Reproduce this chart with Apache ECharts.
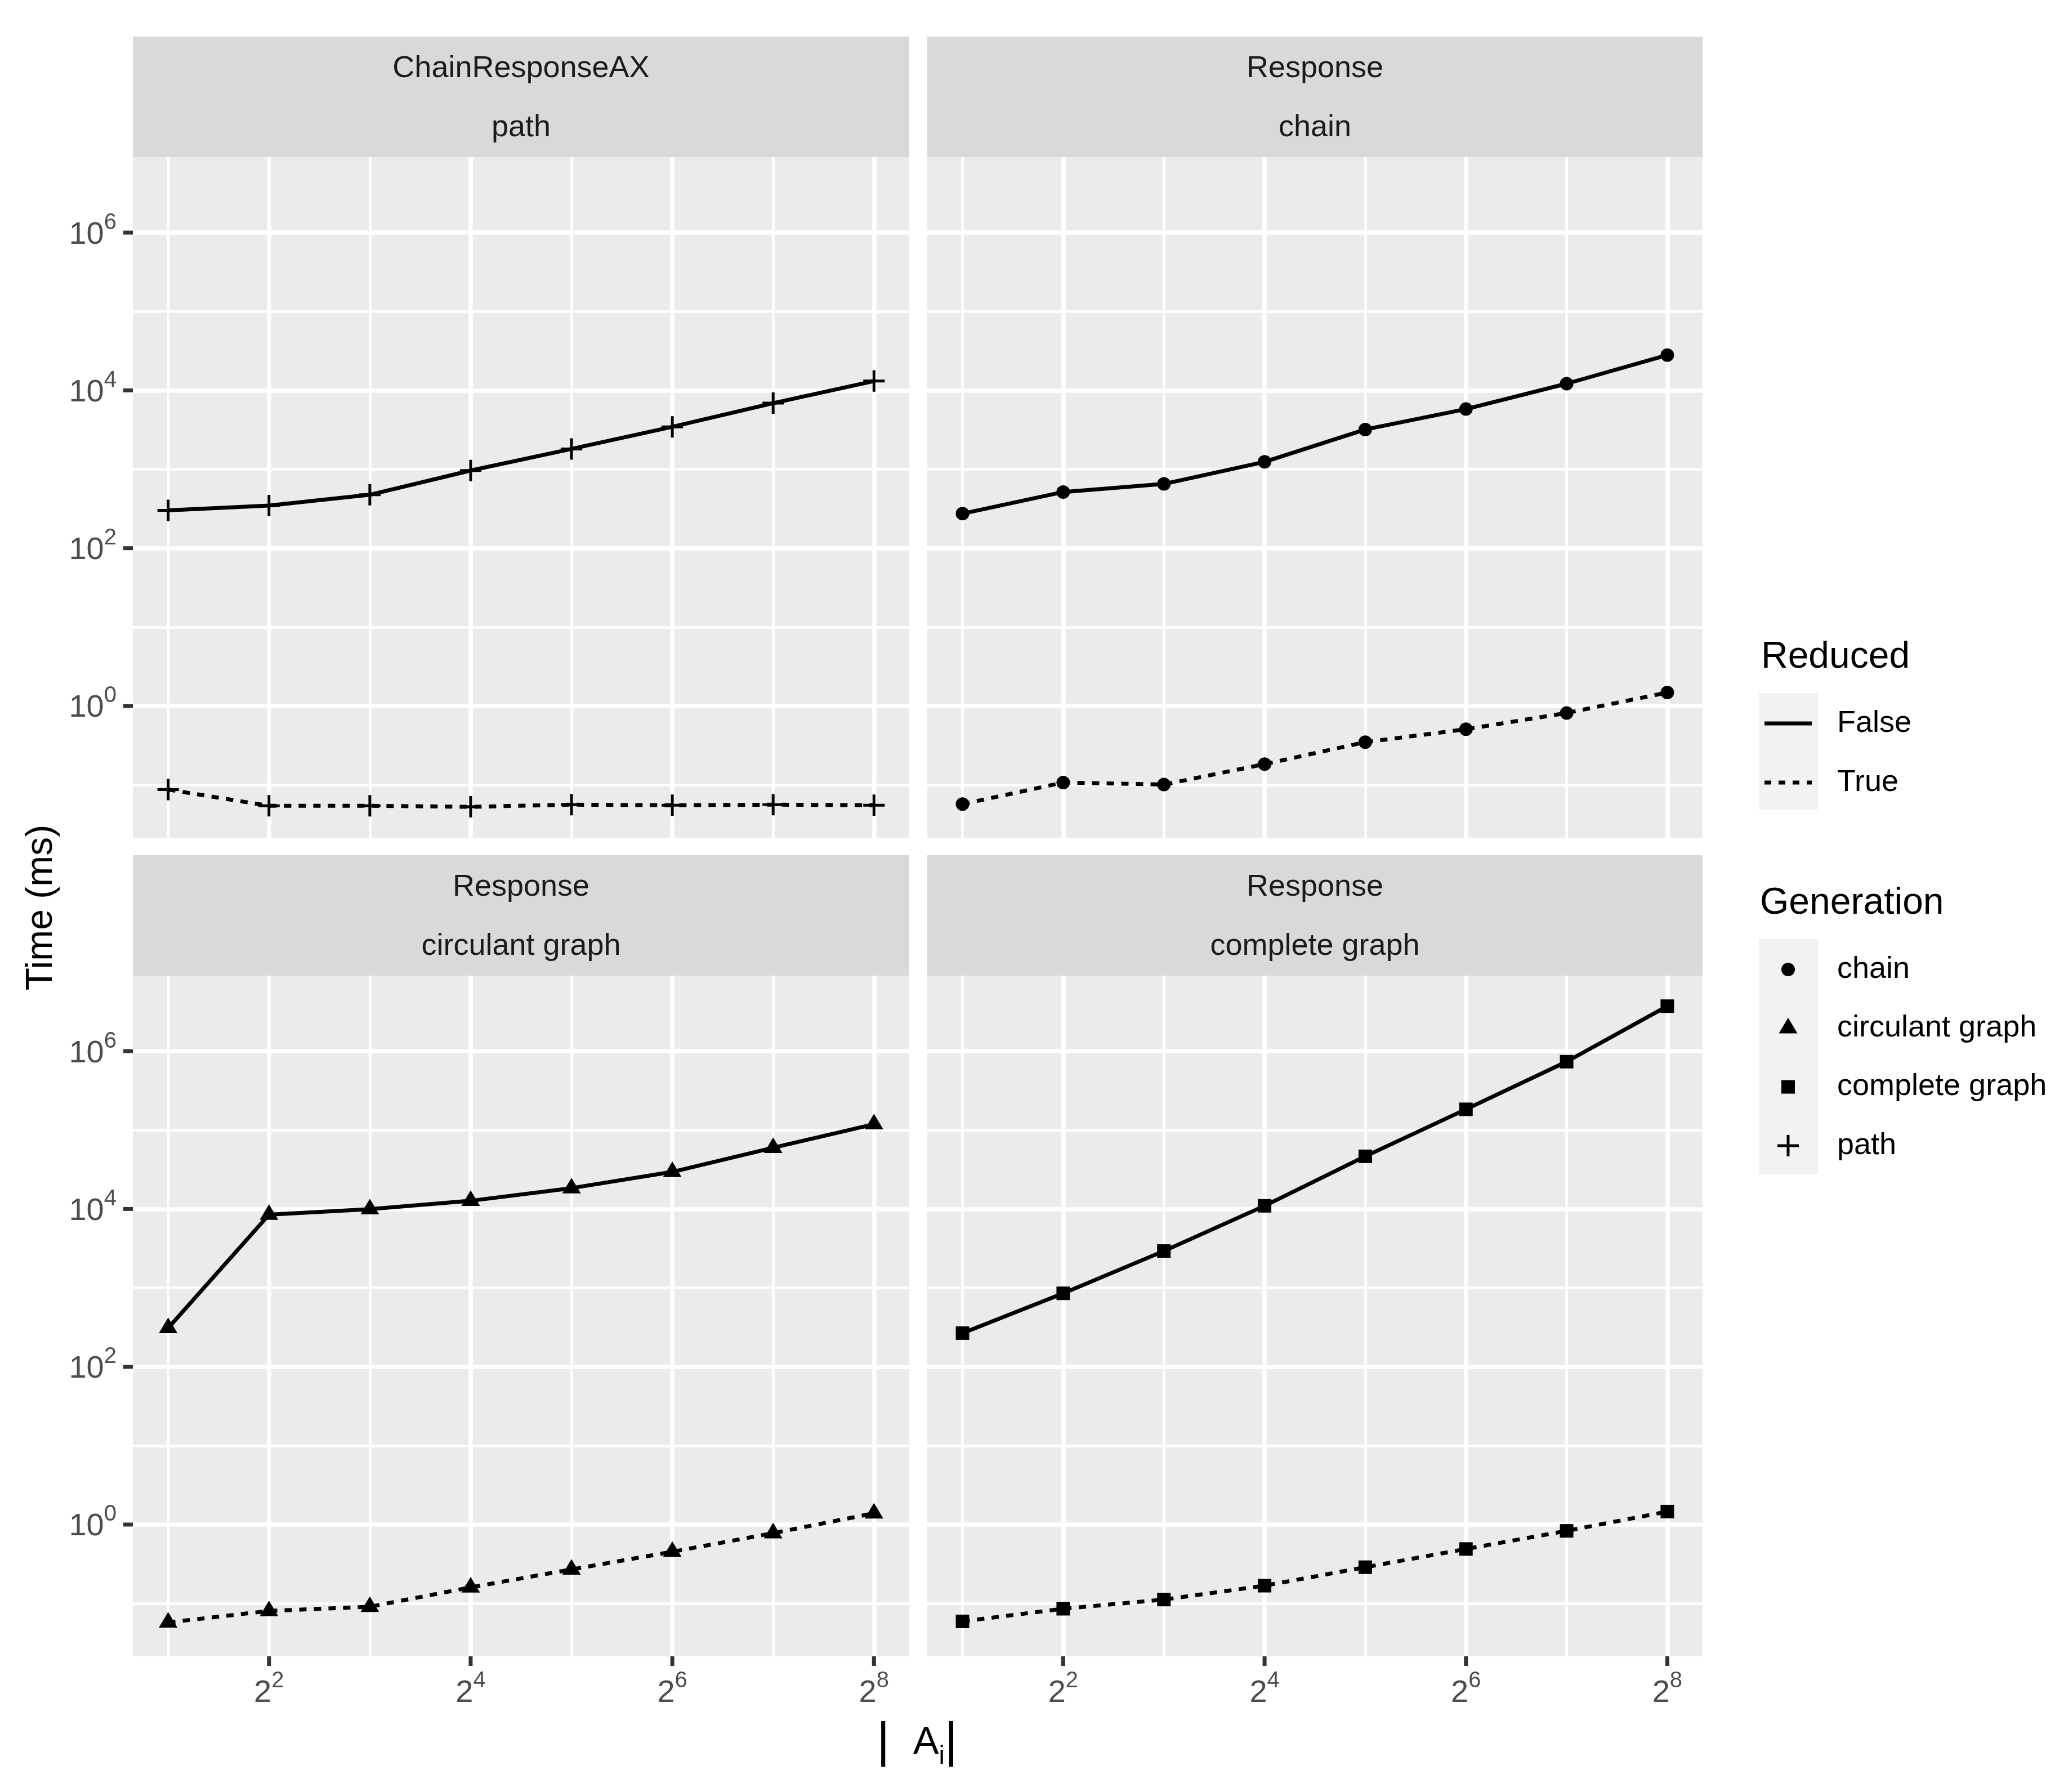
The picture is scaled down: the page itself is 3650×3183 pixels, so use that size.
<!DOCTYPE html>
<html>
<head>
<meta charset="utf-8">
<script src="https://cdn.jsdelivr.net/npm/echarts@6/dist/echarts.min.js"></script>
<style>
html,body{margin:0;padding:0;background:#fff;}
#chart{width:3650px;height:3183px;}
</style>
</head>
<body>
<div id="chart"></div>
<script>
// ---------------- data ----------------
const sizes = [2, 4, 8, 16, 32, 64, 128, 256];           // |A_i|
const facetMethod = ['ChainResponseAX', 'Response', 'Response', 'Response'];
const facetGeneration = ['path', 'chain', 'circulant graph', 'complete graph'];
const reducedLevels = ['False', 'True'];
const generationLevels = ['chain', 'circulant graph', 'complete graph', 'path'];

const pathFalse = [301, 347, 475, 964, 1811, 3451, 6887, 13130];
const pathTrue = [0.0871, 0.0543, 0.0543, 0.0527, 0.0561, 0.0552, 0.0561, 0.0552];
const chainFalse = [274, 515, 652, 1242, 3191, 5794, 12160, 28000];
const chainTrue = [0.057, 0.107, 0.101, 0.183, 0.348, 0.507, 0.815, 1.48];
const circulantFalse = [310, 8470, 9930, 12700, 18360, 29500, 59700, 118600];
const circulantTrue = [0.0575, 0.0804, 0.0909, 0.160, 0.270, 0.452, 0.778, 1.39];
const completeFalse = [267, 853, 2930, 10960, 46450, 183200, 736000, 3720000];
const completeTrue = [0.0593, 0.0857, 0.112, 0.168, 0.288, 0.490, 0.832, 1.46];

const xMajorExps = [2, 4, 6, 8];      // x tick labels 2^2 ... 2^8
const yMajorExps = [0, 2, 4, 6];      // y tick labels 10^0 ... 10^6
const yTitle = 'Time (ms)';

// ---------------- styles / layout ----------------
const FONT = "'Liberation Sans', Arial, Helvetica, sans-serif";
const X_MIN = Math.pow(2, 0.65), X_MAX = Math.pow(2, 8.35);
const Y_MIN = Math.pow(10, -1.67), Y_MAX = Math.pow(10, 6.957);
const PANEL_LEFT = [236, 1647], PANEL_W = [1379, 1377];
const PANEL_TOP = [279, 1733], PANEL_H = 1209;
const STRIP_TOP = [65, 1519], STRIP_H = 214;
const SMALL = 54, BIG = 66;

const TRIANGLE = 'path://M0,0M40,40M20,1.5L36.5,29.25L3.5,29.25Z';
const PLUS = 'path://M0,0M40,40M1,17.5h38v5h-38zM17.5,1h5v38h-5z';
const genSymbol = {
  'chain': { symbol: 'circle', size: 24 },
  'circulant graph': { symbol: TRIANGLE, size: 40 },
  'complete graph': { symbol: 'rect', size: 24 },
  'path': { symbol: PLUS, size: 40 }
};
const legendIcons = {
  'False': 'path://M0,0M84,40M0,16.5h84v7h-84z',
  'True': 'path://M0,0M84,40M0,16.5h12v7h-12zM25,16.5h12v7h-12zM50,16.5h12v7h-12zM75,16.5h9v7h-9z',
  'chain': 'path://M0,0M84,40M54,20A12,12,0,1,1,30,20A12,12,0,1,1,54,20Z',
  'circulant graph': 'path://M0,0M84,40M42,1.5L58.5,29.25L25.5,29.25Z',
  'complete graph': 'path://M0,0M84,40M30,8h24v24h-24z',
  'path': 'path://M0,0M84,40M23,17.5h38v5h-38zM39.5,1h5v38h-5z'
};

const panelValues = [
  [pathFalse, pathTrue],
  [chainFalse, chainTrue],
  [circulantFalse, circulantTrue],
  [completeFalse, completeTrue]
];

const AXIS_TXT = '#4d4d4d';
const TICK = '#333333';

function isExp(v, base, list) {
  const l = Math.log(v) / Math.log(base);
  const e = Math.round(l);
  if (Math.abs(l - e) > 1e-6) return null;
  return list.indexOf(e) >= 0 ? e : null;
}
function yLabel(v) {
  const e = isExp(v, 10, yMajorExps);
  return e === null ? '' : '{b|10}{s|' + e + '}{t| }';
}
function xLabel(v) {
  const e = isExp(v, 2, xMajorExps);
  return e === null ? '' : '{t| }\n{b|2}{s|' + e + '}';
}
const yRich = {
  b: { fontSize: 56, fontFamily: FONT, color: AXIS_TXT, padding: [8, 0, 0, 0], align: 'right' },
  s: { fontSize: 40, fontFamily: FONT, color: AXIS_TXT, padding: [0, 12, 35, 0], align: 'right' },
  t: { width: 17, height: 7, lineHeight: 7, fontSize: 7, backgroundColor: TICK, align: 'right' }
};
const xRich = {
  t: { width: 7, height: 17, lineHeight: 17, fontSize: 7, backgroundColor: TICK, align: 'center' },
  b: { fontSize: 56, lineHeight: 97, fontFamily: FONT, color: AXIS_TXT, align: 'center' },
  s: { fontSize: 40, fontFamily: FONT, color: AXIS_TXT, padding: [0, 0, 43, 0], align: 'center' }
};

const grids = [], xAxes = [], yAxes = [], series = [], graphics = [];

for (let i = 0; i < 4; i++) {
  const col = i % 2, row = Math.floor(i / 2);
  const isBottom = row === 1, isLeft = col === 0;
  grids.push({
    left: PANEL_LEFT[col], top: PANEL_TOP[row], width: PANEL_W[col], height: PANEL_H,
    show: true, backgroundColor: '#ebebeb', borderWidth: 0, borderColor: 'transparent',
    containLabel: false, outerBoundsMode: 'none'
  });
  // minor x (every power of 2)
  xAxes.push({
    gridIndex: i, type: 'log', logBase: 2, min: X_MIN, max: X_MAX, position: 'bottom',
    axisLine: { show: false }, axisTick: { show: false }, axisLabel: { show: false },
    splitLine: { show: true, showMinLine: false, showMaxLine: false, lineStyle: { color: '#ffffff', width: 4.5 } }
  });
  // major x (2^2, 2^4, ...)
  xAxes.push({
    gridIndex: i, type: 'log', logBase: 4, min: X_MIN, max: X_MAX, position: 'bottom', offset: 0,
    axisLine: { show: false }, axisTick: { show: false },
    axisLabel: isBottom ? {
      show: true, margin: 0, formatter: xLabel, rich: xRich, showMinLabel: false, showMaxLabel: false,
      hideOverlap: false
    } : { show: false },
    splitLine: { show: true, showMinLine: false, showMaxLine: false, lineStyle: { color: '#ffffff', width: 7.5 } }
  });
  // minor y (every decade)
  yAxes.push({
    gridIndex: i, type: 'log', logBase: 10, min: Y_MIN, max: Y_MAX, position: 'left',
    axisLine: { show: false }, axisTick: { show: false }, axisLabel: { show: false },
    splitLine: { show: true, showMinLine: false, showMaxLine: false, lineStyle: { color: '#ffffff', width: 4.5 } }
  });
  // major y (10^0, 10^2, ...)
  yAxes.push({
    gridIndex: i, type: 'log', logBase: 100, min: Y_MIN, max: Y_MAX, position: 'left', offset: 0,
    axisLine: { show: false }, axisTick: { show: false },
    axisLabel: isLeft ? {
      show: true, margin: 0, formatter: yLabel, rich: yRich, showMinLabel: false, showMaxLabel: false,
      hideOverlap: false
    } : { show: false },
    splitLine: { show: true, showMinLine: false, showMaxLine: false, lineStyle: { color: '#ffffff', width: 7.5 } }
  });

  const gen = facetGeneration[i];
  const sym = genSymbol[gen];
  reducedLevels.forEach((red, k) => {
    const vals = panelValues[i][k];
    series.push({
      type: 'line', name: facetMethod[i] + ' / ' + gen + ' / ' + red,
      xAxisIndex: 2 * i, yAxisIndex: 2 * i,
      data: sizes.map((x, j) => [x, vals[j]]),
      symbol: sym.symbol, symbolSize: sym.size, showSymbol: true, showAllSymbol: true,
      color: '#000000',
      itemStyle: { color: '#000000', borderWidth: 0 },
      lineStyle: { color: '#000000', width: 7, type: k === 0 ? 'solid' : [13, 13], cap: 'butt' },
      silent: true, z: 3
    });
  });

  // strip
  const sx = PANEL_LEFT[col], sw = PANEL_W[col], sy = STRIP_TOP[row];
  graphics.push({ type: 'rect', shape: { x: sx, y: sy, width: sw, height: STRIP_H }, style: { fill: '#d9d9d9' }, silent: true });
  graphics.push({ type: 'text', x: sx + sw / 2, y: sy + 57, silent: true,
    style: { text: facetMethod[i], fontSize: SMALL, fontFamily: FONT, fill: '#1a1a1a', align: 'center', verticalAlign: 'middle' } });
  graphics.push({ type: 'text', x: sx + sw / 2, y: sy + 162, silent: true,
    style: { text: facetGeneration[i], fontSize: SMALL, fontFamily: FONT, fill: '#1a1a1a', align: 'center', verticalAlign: 'middle' } });
}

// dummy series feeding the legends
reducedLevels.concat(generationLevels).forEach(name => {
  series.push({ type: 'line', name: name, xAxisIndex: 0, yAxisIndex: 0, data: [], color: '#000000',
    itemStyle: { color: '#000000', borderWidth: 0 }, lineStyle: { color: '#000000' }, silent: true });
});

// axis titles
graphics.push({ type: 'text', x: 74, y: 1612, rotation: Math.PI / 2, silent: true,
  style: { text: yTitle, fontSize: BIG, fontFamily: FONT, fill: '#000000', align: 'center', verticalAlign: 'middle' } });
graphics.push({ type: 'text', x: 1629, y: 3096, silent: true,
  style: {
    text: '{bar||}{a|A}{i|i}{bar2||}', align: 'center', verticalAlign: 'middle',
    rich: {
      bar: { fontSize: 88, fontFamily: FONT, fill: '#000000', color: '#000000', padding: [0, 42, 0, 0] },
      a: { fontSize: 68, fontFamily: FONT, fill: '#000000', color: '#000000' },
      i: { fontSize: 47, fontFamily: FONT, fill: '#000000', color: '#000000', padding: [49, 0, 0, 0] },
      bar2: { fontSize: 88, fontFamily: FONT, fill: '#000000', color: '#000000' }
    }
  } });

// legend titles and key backgrounds
graphics.push({ type: 'text', x: 3128, y: 1168, silent: true,
  style: { text: 'Reduced', fontSize: BIG, fontFamily: FONT, fill: '#000000', align: 'left', verticalAlign: 'middle' } });
graphics.push({ type: 'text', x: 3126, y: 1605, silent: true,
  style: { text: 'Generation', fontSize: BIG, fontFamily: FONT, fill: '#000000', align: 'left', verticalAlign: 'middle' } });
graphics.push({ type: 'rect', shape: { x: 3124, y: 1231, width: 105, height: 207 }, style: { fill: '#f2f2f2' }, silent: true });
graphics.push({ type: 'rect', shape: { x: 3124, y: 1668, width: 105, height: 417 }, style: { fill: '#f2f2f2' }, silent: true });

const legendText = { fontSize: SMALL, lineHeight: 55, fontFamily: FONT, color: '#000000', padding: [7, 0, 0, 40] };
const option = {
  animation: false,
  backgroundColor: '#ffffff',
  grid: grids,
  xAxis: xAxes,
  yAxis: yAxes,
  series: series,
  legend: [
    { show: true, orient: 'vertical', left: 3134, top: 1254, padding: 0, itemWidth: 84, itemHeight: 40, itemGap: 43,
      selectedMode: false, itemStyle: { borderWidth: 0 }, textStyle: legendText,
      data: reducedLevels.map(n => ({ name: n, icon: legendIcons[n] })) },
    { show: true, orient: 'vertical', left: 3134, top: 1691, padding: 0, itemWidth: 84, itemHeight: 40, itemGap: 42.3,
      selectedMode: false, itemStyle: { borderWidth: 0 }, textStyle: legendText,
      data: generationLevels.map(n => ({ name: n, icon: legendIcons[n] })) }
  ],
  graphic: { elements: graphics }
};

const chart = echarts.init(document.getElementById('chart'), null, { renderer: 'canvas', width: 3650, height: 3183 });
chart.setOption(option);
</script>
</body>
</html>
